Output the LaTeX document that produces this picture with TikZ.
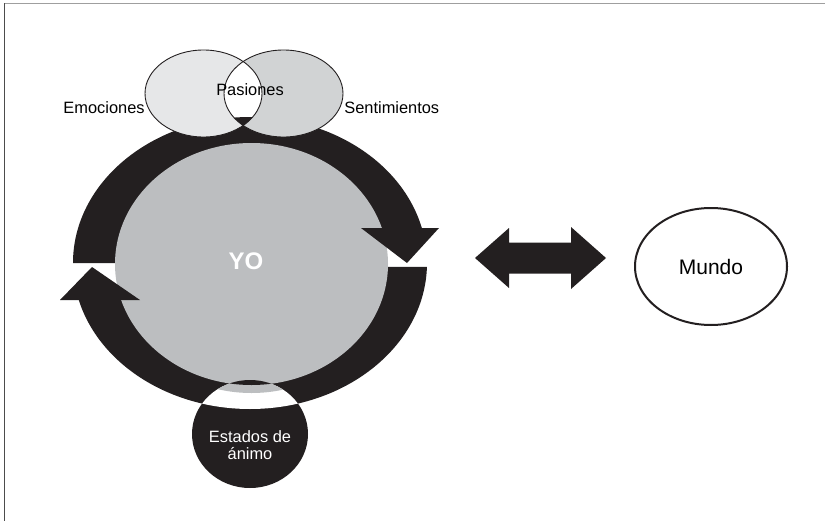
\documentclass[tikz,border=0pt]{standalone}
\usepackage{fontspec}
\setmainfont{Liberation Sans}
\usepackage{xcolor}
\usetikzlibrary{shapes.geometric}
\definecolor{ink}{HTML}{231F20}
\definecolor{yogray}{HTML}{BCBEC0}
\definecolor{emogray}{HTML}{E6E7E8}
\definecolor{sengray}{HTML}{D1D3D4}
\tikzstyle{lbl}     = [font=\fontsize{8.2}{8.5}\selectfont, inner sep=0pt]
\tikzstyle{outline} = [draw=ink, line width=0.45pt]
\tikzset{every node/.style={align=center}}

\begin{document}
\begin{tikzpicture}[x=0.5pt, y=0.5pt]
    \useasboundingbox (0,0) rectangle (825,521);
    \draw [gray!75, line width=0.7pt] (4.5,517.5) -- (825,517.5);
    \draw [black!70, line width=0.7pt] (4.5,517.5) -- (4.5,0);

    \coordinate (ring) at (250,258);

    % upper and lower arc of the ring
    \fill [ink] (ring) ++(180:177 and 146)
          arc [start angle=180, end angle=13.87, x radius=177, y radius=146]
          -- (250,293) -- (250,258) -- cycle;
    \fill [ink] (ring) ++(-1.57:177 and 146)
          arc [start angle=-1.57, end angle=-165.3, x radius=177, y radius=146]
          -- (250,221) -- (250,254) -- cycle;

    \fill [yogray] (251.5,257) ellipse [x radius=136.5, y radius=121];

    % arrow heads
    \fill [ink] (361,293) -- (439,293) -- (407,258) -- cycle;
    \fill [ink] (60,221) -- (140,221) -- (92,254) -- cycle;

    % Estados de animo
    \fill [ink] (250,87) ellipse [x radius=58, y radius=54];
    \begin{scope}
        \clip (250,87) ellipse [x radius=58, y radius=54];
        \fill [white] (ring) ellipse [x radius=177, y radius=146];
        \fill [yogray] (251.5,253) ellipse [x radius=137, y radius=125];
        \fill [ink] (251.5,257) ellipse [x radius=136.5, y radius=121];
    \end{scope}

    % Emociones / Sentimientos / Pasiones
    \fill [emogray] (203.5,427.5) ellipse [x radius=58.5, y radius=43.5];
    \fill [sengray] (283.5,427.5) ellipse [x radius=59.5, y radius=43.5];
    \begin{scope}
        \clip (203.5,427.5) ellipse [x radius=58.5, y radius=43.5];
        \clip (283.5,427.5) ellipse [x radius=59.5, y radius=43.5];
        \fill [white] (150,380) rectangle (340,480);
        \fill [ink] (ring) ++(180:177 and 146)
              arc [start angle=180, end angle=13.87, x radius=177, y radius=146]
              -- (250,293) -- (250,258) -- cycle;
    \end{scope}
    \draw [outline] (203.5,427.5) ellipse [x radius=58.5, y radius=43.5];
    \draw [outline] (283.5,427.5) ellipse [x radius=59.5, y radius=43.5];

    \node (emo) at (145,413)   [lbl, anchor=east] {Emociones};
    \node (pas) at (250,431.5) [lbl] {Pasiones};
    \node (sen) at (344,413)   [lbl, anchor=west] {Sentimientos};

    \node (yo)  at (246,260) [font=\bfseries\fontsize{12}{14}\selectfont, text=white] {YO};
    \node (est) at (250,75.5) [lbl, text=white] {Estados de\\ánimo};

    % double arrow between YO and Mundo
    \coordinate (link) at (540.5,263);
    \fill [ink] (475,263) -- (509,293) -- (509,278.5) -- (571,278.5) -- (571,294)
          -- (606,263) -- (571,232) -- (571,247.5) -- (509,247.5) -- (509,233) -- cycle;

    \node (mundo) at (711,254.5) [ellipse, draw=ink, line width=1pt, inner sep=0pt,
          minimum width=76pt, minimum height=58.5pt, font=\fontsize{10.5}{12}\selectfont] {Mundo};
\end{tikzpicture}
\end{document}
